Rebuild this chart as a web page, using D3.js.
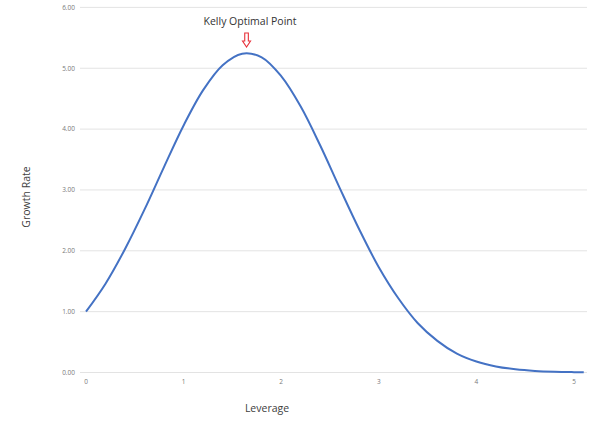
<!DOCTYPE html>
<html>
<head>
<meta charset="utf-8">
<script src="https://cdn.jsdelivr.net/npm/d3@7"></script>
<style>
  body { margin: 0; background: #fff; }
  text { font-family: "Open Sans", "Liberation Sans", sans-serif; }
</style>
</head>
<body>
<script>
// values
const leverage = [0, 0.2, 0.4, 0.6, 0.8, 1.0, 1.2, 1.4, 1.6, 1.8, 2.0, 2.2, 2.4, 2.6,
                  2.8, 3.0, 3.2, 3.4, 3.6, 3.8, 4.0, 4.2, 4.4, 4.6, 4.8, 5.0, 5.1];
const growth = [1.00, 1.46, 2.03, 2.68, 3.38, 4.06, 4.64, 5.05, 5.24, 5.18, 4.87, 4.37, 3.73, 3.03,
                2.35, 1.73, 1.22, 0.81, 0.52, 0.31, 0.18, 0.10, 0.053, 0.026, 0.0125, 0.006, 0.004];
const yTicks = [0, 1, 2, 3, 4, 5, 6];
const xTicks = [0, 1, 2, 3, 4, 5];
const peak = {x: 1.65, y: 5.25, label: "Kelly Optimal Point"};

const width = 600, height = 429;
const svg = d3.select("body").append("svg").attr("width", width).attr("height", height);

const x = d3.scaleLinear().domain([0, 5]).range([86, 574]);
const y = d3.scaleLinear().domain([0, 6]).range([372.5, 7.4]);

// gridlines
svg.append("g").selectAll("line").data(yTicks).enter().append("line")
  .attr("x1", 80).attr("x2", 587)
  .attr("y1", d => y(d)).attr("y2", d => y(d))
  .attr("stroke", "#e3e3e3").attr("stroke-width", 1);

// y tick labels
svg.append("g").selectAll("text").data(yTicks).enter().append("text")
  .attr("x", 75).attr("y", d => y(d)).attr("dy", "0.35em")
  .attr("text-anchor", "end").attr("font-size", 6.5).attr("fill", "#7a7a7a")
  .text(d => d3.format(".2f")(d));

// x tick labels
svg.append("g").selectAll("text").data(xTicks).enter().append("text")
  .attr("x", d => x(d)).attr("y", 382).attr("dy", "0.35em")
  .attr("text-anchor", "middle").attr("font-size", 6.5).attr("fill", "#7a7a7a")
  .text(d => d);

// the curve
const pts = leverage.map((d, i) => [d, growth[i]]);
svg.append("path").datum(pts)
  .attr("fill", "none").attr("stroke", "#4472c4").attr("stroke-width", 2)
  .attr("stroke-linejoin", "round")
  .attr("d", d3.line().x(d => x(d[0])).y(d => y(d[1])).curve(d3.curveCatmullRom));

// axis titles
svg.append("text").attr("x", 267).attr("y", 408).attr("dy", "0.35em")
  .attr("text-anchor", "middle").attr("font-size", 10.5).attr("fill", "#404040")
  .text("Leverage");
svg.append("text").attr("transform", "translate(26,197) rotate(-90)").attr("dy", "0.35em")
  .attr("text-anchor", "middle").attr("font-size", 10.5).attr("fill", "#404040")
  .text("Growth Rate");

// annotation
svg.append("text").attr("x", 250).attr("y", 21).attr("dy", "0.35em")
  .attr("text-anchor", "middle").attr("font-size", 10.5).attr("fill", "#333")
  .text(peak.label);
const ax = x(peak.x) - 0.5, aTop = 33, aBot = 47;
svg.append("path")
  .attr("d", `M${ax - 1.8},${aTop} L${ax + 1.8},${aTop} L${ax + 1.8},${aBot - 6} L${ax + 4},${aBot - 6} L${ax},${aBot} L${ax - 4},${aBot - 6} L${ax - 1.8},${aBot - 6} Z`)
  .attr("fill", "#fff").attr("stroke", "#e8313a").attr("stroke-width", 1.1);
</script>
</body>
</html>
